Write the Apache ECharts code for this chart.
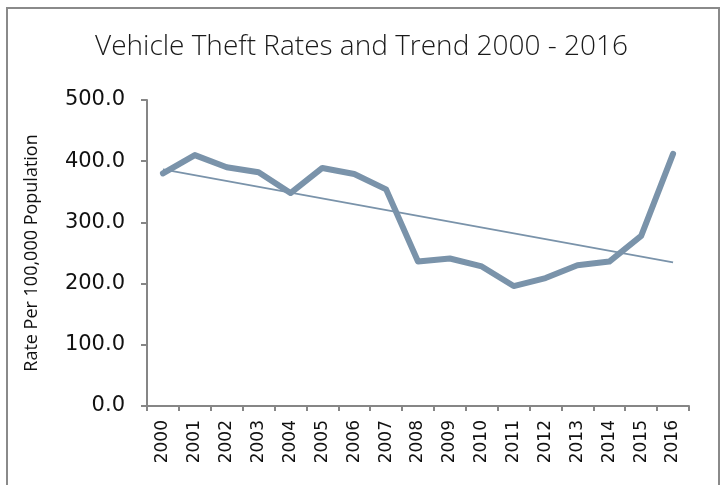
<!DOCTYPE html>
<html>
<head>
<meta charset="utf-8">
<script src="https://cdn.jsdelivr.net/npm/echarts@6/dist/echarts.min.js"></script>
<style>
  html, body { margin: 0; padding: 0; background: #fff; overflow: hidden; }
  #frame {
    position: absolute; left: 6px; top: 7px; width: 714px; height: 600px;
    box-sizing: border-box; border: 2px solid #8a8a8a; border-bottom: none;
  }
  #chart { position: absolute; left: 0; top: 0; width: 723px; height: 485px; }
</style>
</head>
<body>
<div id="frame"></div>
<div id="chart"></div>
<script>
const years = ["2000", "2001", "2002", "2003", "2004", "2005", "2006", "2007", "2008",
  "2009", "2010", "2011", "2012", "2013", "2014", "2015", "2016"];
const theftRates = [380, 410, 390, 382, 348, 389, 379, 354, 236, 241, 228, 196, 209,
  230, 236, 278, 412];
// trend line endpoints, gaps joined
const trendValues = [386.5, null, null, null, null, null, null, null, null, null, null,
  null, null, null, null, null, 234.6];

const lineColor = "#7a93aa";
const axisColor = "#868686";

const chart = echarts.init(document.getElementById("chart"));
chart.setOption({
  animation: false,
  title: {
    text: "Vehicle Theft Rates and Trend 2000 - 2016",
    left: "center",
    top: 28,
    textStyle: { fontFamily: "Open Sans", fontWeight: 300, fontSize: 28, color: "#1a1a1a" }
  },
  grid: { left: 147, right: 34, top: 100, bottom: 79 },
  xAxis: {
    type: "category",
    data: years,
    boundaryGap: true,
    axisLine: { lineStyle: { color: axisColor, width: 2 } },
    axisTick: { show: true, length: 5, lineStyle: { color: axisColor, width: 2 } },
    axisLabel: {
      rotate: 90, margin: 14, fontFamily: "DejaVu Sans", fontSize: 17, color: "#111"
    }
  },
  yAxis: {
    type: "value",
    min: 0, max: 500, interval: 100,
    name: "Rate Per 100,000 Population",
    nameLocation: "middle",
    nameGap: 106,
    nameTextStyle: { fontFamily: "Open Sans", fontSize: 18, color: "#111" },
    axisLine: { show: true, lineStyle: { color: axisColor, width: 2 } },
    axisTick: { show: true, length: 6, lineStyle: { color: axisColor, width: 2 } },
    splitLine: { show: false },
    axisLabel: {
      margin: 22, fontFamily: "DejaVu Sans", fontSize: 21, color: "#111",
      formatter: (v) => v.toFixed(1)
    }
  },
  series: [
    {
      name: "Rate",
      type: "line",
      data: theftRates,
      symbol: "none",
      lineStyle: { color: lineColor, width: 6, cap: "round", join: "round" },
      z: 3
    },
    {
      name: "Trend",
      type: "line",
      data: trendValues,
      connectNulls: true,
      symbol: "none",
      lineStyle: { color: lineColor, width: 1.8 },
      z: 2
    }
  ]
});
</script>
</body>
</html>
